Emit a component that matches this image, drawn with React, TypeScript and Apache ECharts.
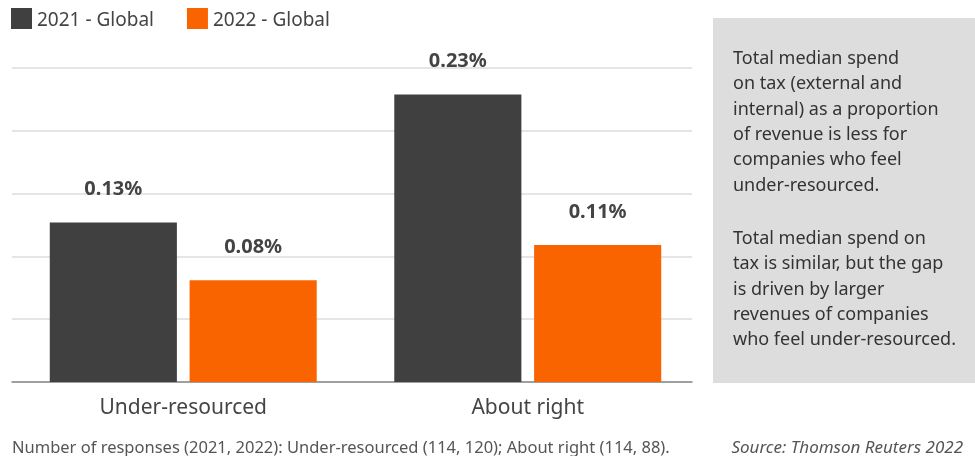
import React, { useEffect, useRef } from "react";
import * as echarts from "echarts";

const categories = ["Under-resourced", "About right"];
const seriesNames = ["2021 - Global", "2022 - Global"];
const values2021 = [0.127, 0.229];
const values2022 = [0.081, 0.109];
const labels2021 = ["0.13%", "0.23%"];
const labels2022 = ["0.08%", "0.11%"];
const noteParagraph1 = [
  "Total median spend",
  "on tax (external and",
  "internal) as a proportion",
  "of revenue is less for",
  "companies who feel",
  "under-resourced.",
];
const noteParagraph2 = [
  "Total median spend on",
  "tax is similar, but the gap",
  "is driven by larger",
  "revenues of companies",
  "who feel under-resourced.",
];
const footnote =
  "Number of responses (2021, 2022): Under-resourced (114, 120); About right (114, 88).";
const source = "Source: Thomson Reuters 2022";

const FONT = "'Noto Sans', sans-serif";

export default function App() {
  const ref = useRef<HTMLDivElement>(null);
  useEffect(() => {
    if (!ref.current) return;
    const chart = echarts.init(ref.current, undefined, { renderer: "svg" });
    const labelStyle = (labels: string[]) => ({
      show: true,
      position: "top",
      distance: 25,
      formatter: (p: any) => labels[p.dataIndex],
      fontFamily: FONT,
      fontWeight: "bold",
      fontSize: 20,
      color: "#444444",
    });
    chart.setOption({
      animation: false,
      textStyle: { fontFamily: FONT },
      legend: {
        left: 11,
        top: 8,
        padding: 0,
        itemWidth: 21,
        itemHeight: 21,
        itemGap: 33,
        icon: "rect",
        textStyle: { fontSize: 19, lineHeight: 21, color: "#444444", fontFamily: FONT },
        data: seriesNames,
      },
      grid: [
        { left: 12, right: 283, top: 68, bottom: 74, containLabel: false },
        { left: 11, right: 275, top: 68, bottom: 74, containLabel: false },
      ],
      xAxis: [
        {
          type: "category",
          gridIndex: 0,
          data: categories,
          axisTick: { show: false },
          axisLine: { lineStyle: { color: "#888888", width: 1.5 } },
          axisLabel: { show: false },
        },
        {
          type: "category",
          gridIndex: 1,
          data: categories,
          axisTick: { show: false },
          axisLine: { show: false },
          axisLabel: { fontSize: 21, color: "#444444", fontFamily: FONT, margin: 13 },
        },
      ],
      yAxis: [
        {
          type: "value",
          gridIndex: 0,
          min: 0,
          max: 0.25,
          interval: 0.05,
          axisLabel: { show: false },
          axisLine: { show: false },
          axisTick: { show: false },
          splitLine: { lineStyle: { color: "#dddddd", width: 1.5 } },
        },
        {
          type: "value",
          gridIndex: 1,
          min: 0,
          max: 0.25,
          interval: 0.05,
          axisLabel: { show: false },
          axisLine: { show: false },
          axisTick: { show: false },
          splitLine: { show: false },
        },
      ],
      series: [
        {
          name: seriesNames[0],
          type: "bar",
          xAxisIndex: 1,
          yAxisIndex: 1,
          data: values2021,
          barWidth: "36.9%",
          barGap: "10%",
          itemStyle: { color: "#404040" },
          label: labelStyle(labels2021),
        },
        {
          name: seriesNames[1],
          type: "bar",
          xAxisIndex: 1,
          yAxisIndex: 1,
          data: values2022,
          barWidth: "36.9%",
          itemStyle: { color: "#fa6400" },
          label: labelStyle(labels2022),
        },
      ],
      graphic: [
        {
          type: "rect",
          shape: { x: 713, y: 18, width: 262, height: 365 },
          style: { fill: "#dcdddc" },
          silent: true,
        },
        {
          type: "text",
          x: 733,
          y: 44,
          style: {
            text: noteParagraph1.join("\n"),
            fontFamily: FONT,
            fontSize: 18,
            lineHeight: 25.4,
            fill: "#333333",
          },
        },
        {
          type: "text",
          x: 733,
          y: 224,
          style: {
            text: noteParagraph2.join("\n"),
            fontFamily: FONT,
            fontSize: 18,
            lineHeight: 25.4,
            fill: "#333333",
          },
        },
        {
          type: "text",
          x: 12,
          y: 446,
          style: {
            text: footnote,
            fontFamily: FONT,
            fontSize: 16.5,
            fill: "#555555",
            verticalAlign: "middle",
          },
        },
        {
          type: "text",
          x: 963,
          y: 446,
          style: {
            text: source,
            fontFamily: FONT,
            fontSize: 17,
            fontStyle: "italic",
            fill: "#555555",
            align: "right",
            verticalAlign: "middle",
          },
        },
      ],
    });
    return () => chart.dispose();
  }, []);
  return (
    <div
      ref={ref}
      style={{ position: "fixed", left: 0, top: 0, width: 975, height: 456 }}
    />
  );
}
